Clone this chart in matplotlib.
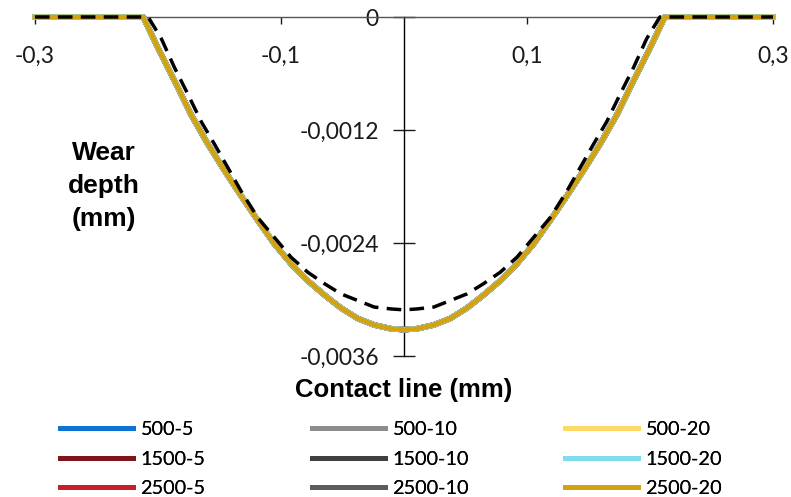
import matplotlib
matplotlib.use('Agg')
import matplotlib.pyplot as plt

plt.rcParams['font.family'] = ['Lato', 'DejaVu Sans']

#----- data
# worn profile (all 9 cases lie on top of each other)
x_solid = [-0.3, -0.212, -0.200, -0.1865, -0.173, -0.1594, -0.146, -0.1324, -0.1189,
           -0.1054, -0.0919, -0.0783, -0.0649, -0.0513, -0.0378, -0.0243, -0.0108, 0.0,
           0.0108, 0.0243, 0.0378, 0.0513, 0.0649, 0.0783, 0.0919, 0.1054, 0.1189,
           0.1324, 0.146, 0.1594, 0.173, 0.1865, 0.200, 0.212, 0.3]
y_solid = [0.0, 0.0, -0.00033, -0.00068, -0.00104, -0.00135, -0.00163, -0.00190, -0.00216,
           -0.00241, -0.00262, -0.00280, -0.00295, -0.00309, -0.00320, -0.00327, -0.00331, -0.00332,
           -0.00331, -0.00327, -0.00320, -0.00309, -0.00295, -0.00280, -0.00262, -0.00241, -0.00216,
           -0.00190, -0.00163, -0.00135, -0.00104, -0.00068, -0.00033, 0.0, 0.0]

# dashed reference profile
x_dash = [-0.3, -0.208, -0.1973, -0.1865, -0.1757, -0.1649, -0.1541, -0.1432, -0.1324,
          -0.1189, -0.1054, -0.0919, -0.0783, -0.0649, -0.0513, -0.0378, -0.0243, -0.0108, 0.0,
          0.0108, 0.0243, 0.0378, 0.0513, 0.0649, 0.0783, 0.0919, 0.1054, 0.1189,
          0.1324, 0.1432, 0.1541, 0.1649, 0.1757, 0.1865, 0.1973, 0.208, 0.3]
y_dash = [0.0, 0.0, -0.00023, -0.00054, -0.00082, -0.00111, -0.00135, -0.00160, -0.00185,
          -0.00213, -0.00234, -0.00255, -0.00271, -0.00283, -0.00294, -0.00301, -0.00308, -0.00310, -0.00311,
          -0.00310, -0.00308, -0.00301, -0.00294, -0.00283, -0.00271, -0.00255, -0.00234, -0.00213,
          -0.00185, -0.00160, -0.00135, -0.00111, -0.00082, -0.00054, -0.00023, 0.0, 0.0]

series_names = ['500-5', '1500-5', '2500-5', '500-10', '1500-10', '2500-10',
                '500-20', '1500-20', '2500-20']
series_colors = ['#0a74d2', '#7f1419', '#c81e2c', '#8c8c8c', '#3f3f3f', '#5c5c5c',
                 '#ffd966', '#7fdcf0', '#d4a10f']

x_ticks = [-0.3, -0.1, 0.1, 0.3]
x_ticklabels = ['-0,3', '-0,1', '0,1', '0,3']
y_ticks = [0, -0.0012, -0.0024, -0.0036]
y_ticklabels = ['0', '-0,0012', '-0,0024', '-0,0036']

#----- figure
fig = plt.figure(figsize=(7.91, 4.97), dpi=100)
ax = fig.add_axes([35/791, 1 - 356/497, 738/791, 339/497])

lines = []
for name, col in zip(series_names, series_colors):
    if name == '2500-20':
        lw = 3.4; z = 4
    else:
        lw = 4.0; z = 3
    l, = ax.plot(x_solid, y_solid, color=col, lw=lw, label=name, zorder=z,
                 clip_on=False, solid_joinstyle='round')
    lines.append(l)

ax.plot(x_dash, y_dash, color='black', lw=2.5, dashes=(4.2, 2.4), zorder=5, clip_on=False)

ax.set_xlim(-0.3, 0.3)
ax.set_ylim(-0.0036, 0)

# axes crossing at the origin
ax.spines['left'].set_position(('data', 0))
ax.spines['bottom'].set_position(('data', 0))
ax.spines['top'].set_visible(False)
ax.spines['right'].set_visible(False)
ax.spines['left'].set_linewidth(1.0)
ax.spines['bottom'].set_linewidth(1.0)
ax.spines['bottom'].set_color('#555555')

ax.set_xticks(x_ticks)
ax.set_xticklabels(x_ticklabels)
ax.set_yticks(y_ticks)
ax.set_yticklabels(y_ticklabels)
ax.xaxis.set_ticks_position('bottom')
ax.yaxis.set_ticks_position('left')
ax.tick_params(axis='x', direction='out', length=5, width=1, pad=16, labelsize=16.5, colors='#1a1a1a')
ax.tick_params(axis='y', direction='inout', length=16, width=1, pad=10, labelsize=16.5, colors='#1a1a1a')

fig.text(104/791, 1 - 186/497, 'Wear\ndepth\n(mm)', ha='center', va='center',
         fontsize=19, fontweight='bold', family='Liberation Sans', linespacing=1.45)
fig.text(404/791, 1 - 390/497, 'Contact line (mm)', ha='center', va='center',
         fontsize=18.5, fontweight='bold', family='Liberation Sans')

# legend: three equal columns
col_x = [60, 312, 565]
for c in range(3):
    hs = lines[3*c:3*c+3]
    leg = fig.legend(hs, [h.get_label() for h in hs], loc='upper left',
                     bbox_to_anchor=(col_x[c]/791, 1 - 421/497),
                     frameon=False, fontsize=14.3, handlelength=3.7, handletextpad=0.35,
                     labelspacing=0.64, borderpad=0, borderaxespad=0)
    for h in leg.get_lines():
        h.set_linewidth(3.5)
    fig.add_artist(leg)

fig.savefig('out.png', dpi=100)
